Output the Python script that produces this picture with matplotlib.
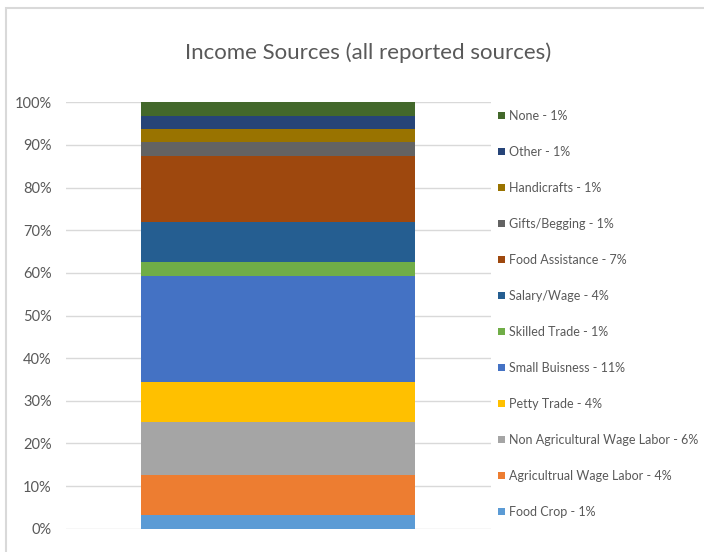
import matplotlib
matplotlib.use("Agg")
import matplotlib.pyplot as plt
from matplotlib.patches import Rectangle

plt.rcParams['font.family'] = ['Lato', 'DejaVu Sans']

# income sources, bottom of the stack first
sources = ["Food Crop", "Agricultrual Wage Labor", "Non Agricultural Wage Labor",
           "Petty Trade", "Small Buisness", "Skilled Trade", "Salary/Wage",
           "Food Assistance", "Gifts/Begging", "Handicrafts", "Other", "None"]
shares = [1.4, 4.2, 5.6, 4.2, 11.2, 1.4, 4.2, 7.0, 1.4, 1.4, 1.4, 1.4]
colors = ["#5B9BD5", "#ED7D31", "#A5A5A5", "#FFC000", "#4472C4", "#70AD47",
          "#255E91", "#9E480E", "#636363", "#997300", "#264478", "#43682B"]

total = sum(shares)
pct = [s / total * 100 for s in shares]

fig = plt.figure(figsize=(7.04, 5.52), dpi=100)
ax = fig.add_axes([65.7 / 704, 23.3 / 552, 425 / 704, 426.4 / 552])

bottom = 0
handles = []
for name, s, p, c in zip(sources, shares, pct, colors):
    b = ax.bar(0, p, width=0.644, bottom=bottom, color=c,
               label="{} - {:.0f}%".format(name, s), zorder=3)
    handles.append(b)
    bottom += p

ax.set_xlim(-0.5, 0.5)
ax.set_ylim(0, 100)
ax.set_yticks(range(0, 101, 10))
ax.set_yticklabels(["{}%".format(t) for t in range(0, 101, 10)])
ax.set_xticks([])
ax.tick_params(axis='y', length=0, pad=10, labelsize=10.5, labelcolor="#595959")
ax.grid(axis='y', color="#D9D9D9", linewidth=1.0, zorder=0)
for sp in ax.spines.values():
    sp.set_visible(False)

fig.text(368 / 704, 1 - 53 / 552, "Income Sources (all reported sources)",
         ha='center', va='center', fontsize=16, color="#595959")

leg = fig.legend(handles=handles[::-1], loc='upper left',
                 bbox_to_anchor=(498 / 704, 1 - 110 / 552), frameon=False,
                 fontsize=9, labelcolor="#595959", handlelength=0.55,
                 handleheight=0.55, handletextpad=0.3, labelspacing=1.92,
                 borderaxespad=0, borderpad=0)

# chart frame
fig.patches.append(Rectangle((6 / 704, -0.1), 1.2, 1.1 - 8 / 552,
                             transform=fig.transFigure, fill=False,
                             edgecolor="#D9D9D9", linewidth=1.5))

fig.savefig("out.png", dpi=100, facecolor="white")
